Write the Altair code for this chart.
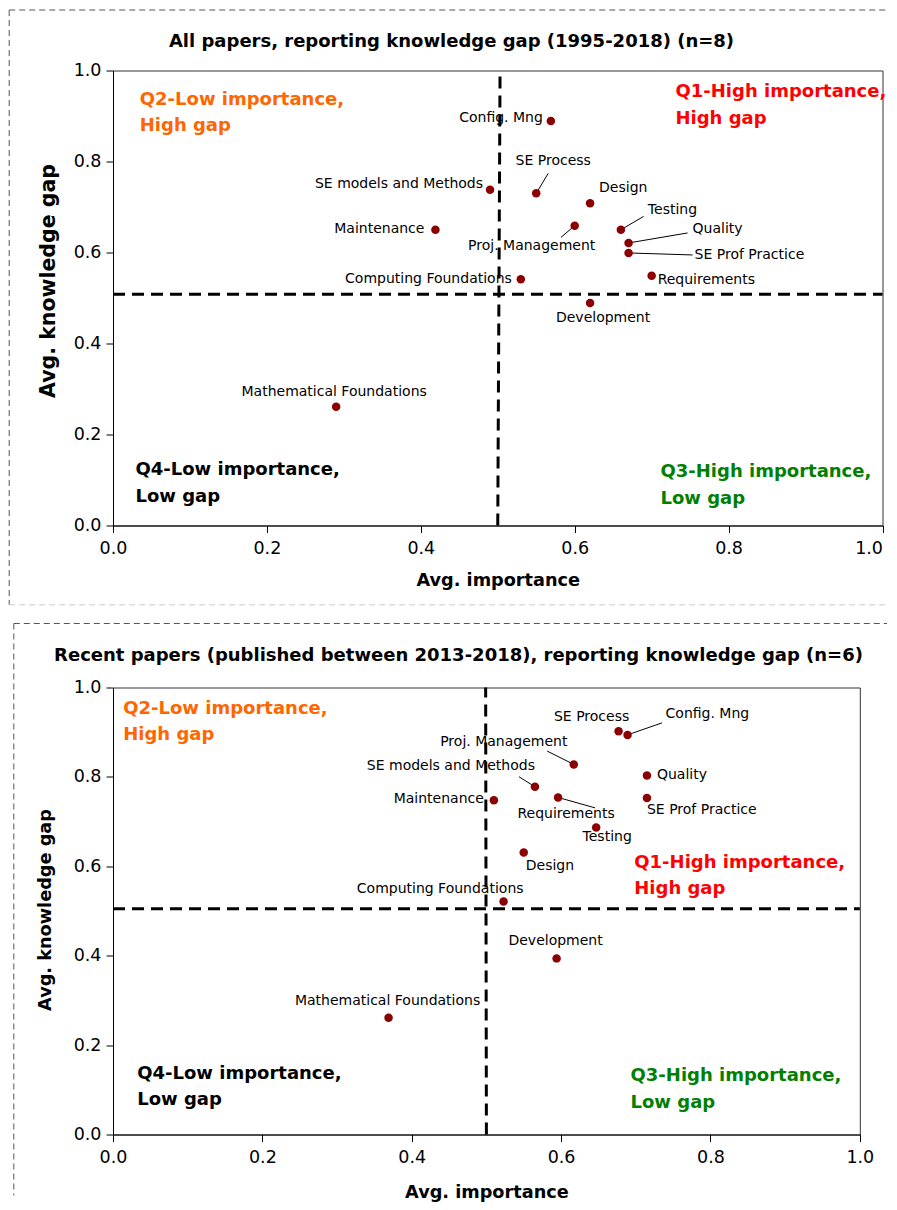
import altair as alt
import pandas as pd

FONT = "DejaVu Sans"

# ---------------- data ----------------
TICKS = [0.0, 0.2, 0.4, 0.6, 0.8, 1.0]

# All papers, reporting knowledge gap (1995-2018) (n=8)
ALL_AREAS = ["Config. Mng", "SE models and Methods", "SE Process", "Maintenance",
             "Design", "Proj. Management", "Testing", "Quality", "SE Prof Practice",
             "Computing Foundations", "Requirements", "Development",
             "Mathematical Foundations"]
ALL_IMPORTANCE = [0.569, 0.490, 0.550, 0.419, 0.620, 0.600, 0.660, 0.670, 0.670,
                  0.530, 0.700, 0.620, 0.290]
ALL_GAP = [0.889, 0.738, 0.730, 0.650, 0.708, 0.659, 0.650, 0.621, 0.599,
           0.541, 0.549, 0.489, 0.261]
ALL_GAP_THRESHOLD = 0.508
ALL_IMP_THRESHOLD = [0.500, 0.503]   # bottom, top of the drawn split line

# Recent papers (published between 2013-2018), reporting knowledge gap (n=6)
REC_AREAS = ["SE Process", "Config. Mng", "Proj. Management", "Quality",
             "SE models and Methods", "Maintenance", "Requirements",
             "SE Prof Practice", "Testing", "Design", "Computing Foundations",
             "Development", "Mathematical Foundations"]
REC_IMPORTANCE = [0.677, 0.689, 0.617, 0.715, 0.565, 0.510, 0.596, 0.715, 0.647,
                  0.550, 0.523, 0.594, 0.369]
REC_GAP = [0.902, 0.894, 0.828, 0.803, 0.778, 0.748, 0.754, 0.753, 0.687,
           0.631, 0.521, 0.394, 0.261]
REC_GAP_THRESHOLD = 0.505
REC_IMP_THRESHOLD = [0.500, 0.499]

TITLES = ["All papers, reporting knowledge gap (1995-2018) (n=8)",
          "Recent papers (published between 2013-2018), reporting knowledge gap (n=6)"]

QUADRANTS = [
    ("Q2-Low importance,", "High gap", "#FF6600"),
    ("Q1-High importance,", "High gap", "#FF0000"),
    ("Q3-High importance,", "Low gap", "#008000"),
    ("Q4-Low importance,", "Low gap", "#000000"),
]

# ---------------- layout (label placement, pixels) ----------------
ALL_LABELS = {
    "Config. Mng": ("right", -8, -3),
    "SE models and Methods": ("right", -7, -6),
    "Maintenance": ("right", -11, -1),
    "Computing Foundations": ("right", -9, 0),
    "SE Process": ("center", 17, -32),
    "Design": ("left", 9, -15),
    "Testing": ("left", 27, -20),
    "Quality": ("left", 64, -14),
    "SE Prof Practice": ("left", 66, 2),
    "Requirements": ("left", 6, 4),
    "Development": ("center", 13, 15),
    "Proj. Management": ("center", -43, 20),
    "Mathematical Foundations": ("center", -2, -15),
}
ALL_LEADERS = {
    "SE Process": (12, -20),
    "Testing": (22.7, -13.3),
    "Quality": (59, -10),
    "SE Prof Practice": (64, 2),
    "Proj. Management": (-13.7, 11.7),
}
REC_LABELS = {
    "SE Process": ("center", -27, -14),
    "Config. Mng": ("left", 38, -21),
    "Proj. Management": ("center", -70, -22),
    "SE models and Methods": ("right", 0, -21),
    "Maintenance": ("right", -10, -1),
    "Requirements": ("center", 8, 17),
    "Quality": ("left", 10, -1),
    "SE Prof Practice": ("left", 0, 12),
    "Testing": ("center", 11, 10),
    "Design": ("left", 2, 14),
    "Computing Foundations": ("right", 20, -13),
    "Development": ("center", -1, -17),
    "Mathematical Foundations": ("center", -1, -17),
}
REC_LEADERS = {
    "Config. Mng": (34.4, -12),
    "Proj. Management": (-26.6, -13.3),
    "SE models and Methods": (-16, -10),
    "Requirements": (37, 10.4),
}


def one_row():
    return alt.Chart(pd.DataFrame({"k": [0]}))


def panel(areas, imp, gap, gap_thr, imp_thr, cfg):
    W, H = cfg["W"], cfg["H"]
    df = pd.DataFrame({"area": areas, "imp": imp, "gap": gap})

    xscale = alt.Scale(domain=[0, 1], nice=False, zero=False)
    yscale = alt.Scale(domain=[0, 1], nice=False, zero=False)
    xaxis = alt.Axis(values=TICKS, format=".1f", title="Avg. importance",
                     titleY=cfg["xtitle_y"], titleBaseline="middle",
                     tickSize=7, labelPadding=7, labelFlush=False,
                     labelAlign=cfg["xlabel_align"])
    yaxis = alt.Axis(values=TICKS, format=".1f", title="Avg. knowledge gap",
                     titleX=cfg["ytitle_x"], titleY=cfg["ytitle_y"],
                     titleBaseline="middle", titleAlign="center",
                     titleFontSize=cfg["ytitle_size"], tickSize=7, labelPadding=5,
                     labelFlush=False)

    def X(**kw):
        return alt.X(scale=xscale, axis=xaxis, **kw)

    def Y(**kw):
        return alt.Y(scale=yscale, axis=yaxis, **kw)

    layers = []

    # quadrant captions
    for (l1, l2, color), (qx, qy) in zip(QUADRANTS, cfg["quads"]):
        for i, line in enumerate([l1, l2]):
            layers.append(
                one_row().mark_text(font=FONT, fontSize=18, fontWeight="bold",
                                    color=color, align="left", baseline="middle",
                                    dy=i * cfg["line_gap"])
                .encode(x=X(datum=qx), y=Y(datum=qy), text=alt.value(line))
            )

    # leader lines
    lead = df[df["area"].isin(list(cfg["leaders"].keys()))].copy()
    lead["ex"] = [r.imp + cfg["leaders"][r.area][0] / W for r in lead.itertuples()]
    lead["ey"] = [r.gap - cfg["leaders"][r.area][1] / H for r in lead.itertuples()]
    layers.append(
        alt.Chart(lead).mark_rule(color="black", strokeWidth=1)
        .encode(x=X(field="imp", type="quantitative"),
                y=Y(field="gap", type="quantitative"),
                x2="ex:Q", y2="ey:Q")
    )

    # points
    layers.append(
        alt.Chart(df).mark_circle(size=72, color="#8B0000", opacity=1)
        .encode(x=X(field="imp", type="quantitative"),
                y=Y(field="gap", type="quantitative"))
    )

    # point labels
    for name, (align, dx, dy) in cfg["labels"].items():
        layers.append(
            alt.Chart(df).transform_filter(alt.datum.area == name)
            .mark_text(font=FONT, fontSize=14, color="black", align=align,
                       baseline="middle", dx=dx, dy=dy)
            .encode(x=X(field="imp", type="quantitative"),
                    y=Y(field="gap", type="quantitative"),
                    text="area:N")
        )

    # quadrant split lines
    layers.append(
        one_row().mark_rule(color="black", strokeWidth=3, strokeDash=[12, 7])
        .encode(x=X(datum=0.0), x2=alt.datum(1.0),
                y=Y(datum=gap_thr), y2=alt.datum(gap_thr))
    )
    layers.append(
        one_row().mark_rule(color="black", strokeWidth=3, strokeDash=[12, 7])
        .encode(x=X(datum=imp_thr[0]), x2=alt.datum(imp_thr[1]),
                y=Y(datum=0.0), y2=alt.datum(1.0))
    )

    # panel title
    layers.append(
        one_row().mark_text(font=FONT, fontSize=18, fontWeight="bold",
                            color="black", align="center", baseline="middle")
        .encode(x=alt.value(cfg["title_x"]), y=alt.value(cfg["title_y"]),
                text=alt.value(cfg["title"]))
    )

    # dashed panel frame
    for (x1, x2, y1, y2, color) in cfg["frame"]:
        layers.append(
            one_row().mark_rule(color=color, strokeWidth=1, strokeDash=[6, 4])
            .encode(x=alt.value(x1), x2=alt.value(x2),
                    y=alt.value(y1), y2=alt.value(y2))
        )

    return alt.layer(*layers).properties(width=W, height=H)


ALL_CFG = dict(
    W=769.5, H=455, xtitle_y=55, ytitle_x=-64.2, ytitle_y=210, ytitle_size=20.5,
    xlabel_align={"condition": {"test": "datum.value >= 1", "value": "right"},
                  "value": "center"},
    quads=[(0.0348, 0.936), (0.731, 0.952), (0.7115, 0.117), (0.0292, 0.121)],
    line_gap=26.8, labels=ALL_LABELS, leaders=ALL_LEADERS,
    title=TITLES[0], title_x=338.5, title_y=-29,
    frame=[(-103.8, 774, -60.5, -60.5, "#555555"),
           (-103.8, -103.8, -60.5, 534.3, "#555555"),
           (-103.8, 774, 534.3, 534.3, "#cccccc")],
)
REC_CFG = dict(
    W=746.8, H=447, xtitle_y=58, ytitle_x=-67.5, ytitle_y=222, ytitle_size=17.7,
    xlabel_align="center",
    quads=[(0.0137, 0.953), (0.698, 0.607), (0.693, 0.130), (0.0324, 0.136)],
    line_gap=26.3, labels=REC_LABELS, leaders=REC_LEADERS,
    title=TITLES[1], title_x=345.5, title_y=-31.3,
    frame=[(-99.2, 774, -64, -64, "#555555"),
           (-99.2, -99.2, -64, 508, "#555555")],
)

top = panel(ALL_AREAS, ALL_IMPORTANCE, ALL_GAP, ALL_GAP_THRESHOLD, ALL_IMP_THRESHOLD, ALL_CFG)
bottom = panel(REC_AREAS, REC_IMPORTANCE, REC_GAP, REC_GAP_THRESHOLD, REC_IMP_THRESHOLD, REC_CFG)

chart = (
    alt.concat(top, bottom, columns=1, spacing=16)
    .properties(padding={"left": 0, "top": 0.5, "right": 0, "bottom": 0})
    .configure_view(stroke="#333333", strokeWidth=1)
    .configure_axis(labelFont=FONT, labelFontSize=17.5, labelColor="black",
                    titleFont=FONT, titleFontSize=17.7, titleFontWeight="bold",
                    titleColor="black", domainColor="black", domainWidth=1,
                    tickColor="black", gridColor="#cccccc", gridDash=[7, 4],
                    gridWidth=1)
)

chart.save("out.html", embed_options={"renderer": "svg", "actions": False})
